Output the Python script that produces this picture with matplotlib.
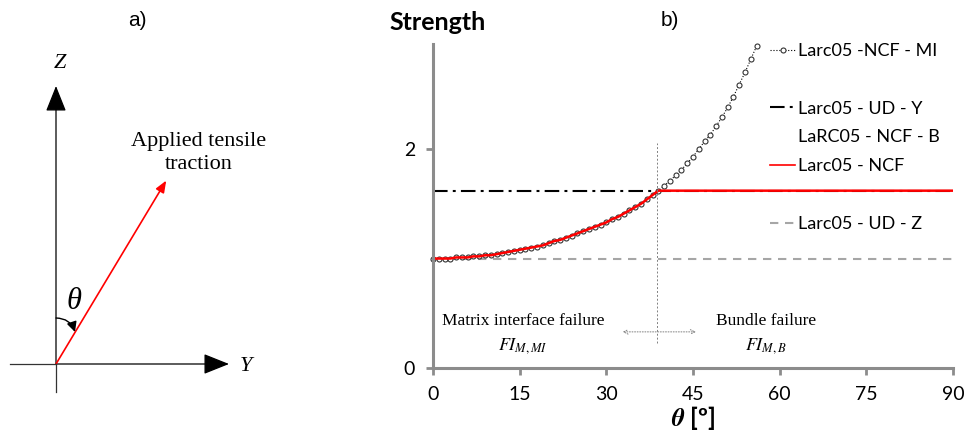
import numpy as np
import matplotlib
matplotlib.use('Agg')
import matplotlib.pyplot as plt
from matplotlib.lines import Line2D
from matplotlib.patches import FancyArrowPatch

# strength vs angle
theta_mi = list(range(0, 57))
mi = [1.00, 1.00, 1.00, 1.00, 1.01, 1.01, 1.01, 1.02, 1.02, 1.03,
      1.03, 1.04, 1.05, 1.06, 1.07, 1.08, 1.09, 1.10, 1.11, 1.12,
      1.14, 1.16, 1.17, 1.19, 1.21, 1.23, 1.25, 1.27, 1.29, 1.31,
      1.33, 1.36, 1.38, 1.41, 1.44, 1.47, 1.50, 1.54, 1.58, 1.62,
      1.665, 1.71, 1.76, 1.81, 1.87, 1.93, 2.00, 2.07, 2.13, 2.21,
      2.29, 2.38, 2.48, 2.59, 2.70, 2.82, 2.94]
theta_ncf = theta_mi[:40] + [90]
ncf = mi[:40] + [1.62]
theta_flat = [0, 90]
ud_y = [1.62, 1.62]
ud_z = [1.0, 1.0]
theta_switch = 38.8
xticks = [0, 15, 30, 45, 60, 75, 90]
yticks = [0, 2]

# sketch a) geometry (pixels)
origin = (56, 364)
load_angle = 31
load_len = 214

gray = '#8c8c8c'
fig = plt.figure(figsize=(9.66, 4.36), dpi=100)

# ---- a) sketch ----
ax0 = fig.add_axes([0, 0, 1, 1])
ax0.set_xlim(0, 966)
ax0.set_ylim(436, 0)
ax0.axis('off')
ox, oy = origin
hs = '-|>,head_length=0.8,head_width=0.32'
ax0.plot([ox, ox], [oy, oy + 28], color='#333333', lw=0.9)
ax0.plot([10, ox], [oy, oy], color='#333333', lw=0.9)
ax0.add_patch(FancyArrowPatch((ox, oy), (ox, 86), arrowstyle=hs, mutation_scale=20,
                              color='black', lw=0.9, shrinkA=0, shrinkB=0))
ax0.add_patch(FancyArrowPatch((ox, oy), (229, oy), arrowstyle=hs, mutation_scale=20,
                              color='black', lw=0.9, shrinkA=0, shrinkB=0))
a = np.radians(load_angle)
tip = (ox + load_len * np.sin(a), oy - load_len * np.cos(a))
ax0.add_patch(FancyArrowPatch((ox, oy), tip, arrowstyle='-|>,head_length=0.5,head_width=0.2',
                              mutation_scale=14, color='red', lw=1.2, shrinkA=0, shrinkB=0))
ax0.add_patch(FancyArrowPatch((ox, 318), (75, 332), arrowstyle='-|>,head_length=0.5,head_width=0.25',
                              connectionstyle='arc3,rad=-0.35', mutation_scale=12,
                              color='black', lw=1.0, shrinkA=0, shrinkB=0))
ax0.text(74, 301, 'θ', fontsize=22, family='Liberation Serif', style='italic',
         ha='center', va='center')
ax0.text(60, 63, 'Z', fontsize=16, family='Liberation Serif', style='italic',
         ha='center', va='center')
ax0.text(246, 366, 'Y', fontsize=16, family='Liberation Serif', style='italic',
         ha='center', va='center')
ax0.text(199, 153, 'Applied tensile\ntraction', fontsize=16, family='Liberation Serif',
         ha='center', va='center', linespacing=1.3)
ax0.text(137, 20, 'a)', fontsize=15, family='Liberation Sans', ha='center', va='center')
ax0.text(670, 20, 'b)', fontsize=15, family='Liberation Sans', ha='center', va='center')
ax0.text(389, 22, 'Strength', fontsize=18, family='Lato', weight='bold',
         ha='left', va='center')

# ---- b) plot ----
ax = fig.add_axes([433 / 966, 68 / 436, 520 / 966, 324 / 436])
ax.patch.set_alpha(0)
ax.plot(theta_flat, ud_z, color='#a6a6a6', lw=1.5, dashes=(4, 3.2))
ax.plot(theta_flat, ud_y, color='black', lw=1.5, dashes=(7, 2.5, 1.4, 2.5))
ax.plot(theta_mi, mi, color='black', lw=0.8, ls=':', marker='o', ms=3.6,
        mfc='white', mec='#333333', mew=0.8, clip_on=False)
ax.plot(theta_ncf, ncf, color='red', lw=1.8)
ax.plot([theta_switch, theta_switch], [0.23, 2.06], color='#808080', lw=0.7, ls=(0, (2, 2)))
ax.annotate('', xy=(32.8, 0.33), xytext=(45.5, 0.33),
            arrowprops=dict(arrowstyle='<->', color='#808080', lw=0.7, ls=':',
                            mutation_scale=8, shrinkA=0, shrinkB=0))
ax.text(15.6, 0.43, 'Matrix interface failure', fontsize=12.5, family='Liberation Serif',
        ha='center', va='center')
ax.text(15.6, 0.20, r'$FI_{M,MI}$', fontsize=13, family='Liberation Serif',
        ha='center', va='center', math_fontfamily='stix')
ax.text(57.6, 0.43, 'Bundle failure', fontsize=12.5, family='Liberation Serif',
        ha='center', va='center')
ax.text(57.6, 0.20, r'$FI_{M,B}$', fontsize=13, family='Liberation Serif',
        ha='center', va='center', math_fontfamily='stix')

ax.set_xlim(0, 90)
ax.set_ylim(0, 2.96)
ax.set_xticks(xticks)
ax.set_yticks(yticks)
ax.tick_params(colors=gray, width=2, length=5, labelcolor='black', labelsize=14, pad=8)
for lab in ax.get_xticklabels() + ax.get_yticklabels():
    lab.set_family('Lato')
for s in ['top', 'right']:
    ax.spines[s].set_visible(False)
for s in ['left', 'bottom']:
    ax.spines[s].set_color(gray)
    ax.spines[s].set_linewidth(2.2)
ax.set_xlabel(r'$\boldsymbol{\theta}$' + ' [º]', fontsize=18, weight='bold', family='Lato',
              labelpad=1, math_fontfamily='stix')

blank = Line2D([], [], color='none')
handles = [
    Line2D([], [], color='black', lw=0.8, ls=':', marker='o', ms=3.6, mfc='white',
           mec='#333333', mew=0.8),
    blank,
    Line2D([], [], color='black', lw=1.5, dashes=(7, 2.5, 1.4, 2.5)),
    blank,
    Line2D([], [], color='red', lw=1.2),
    blank,
    Line2D([], [], color='#a6a6a6', lw=1.5, dashes=(4, 3.2)),
]
labels = ['Larc05 -NCF - MI', ' ', 'Larc05 - UD - Y', 'LaRC05 - NCF - B',
          'Larc05 - NCF', ' ', 'Larc05 - UD - Z']
leg = fig.legend(handles, labels, loc='upper left', bbox_to_anchor=(770 / 966, 1 - 43 / 436),
                 frameon=False, prop={'family': 'Lato', 'size': 13}, borderpad=0,
                 borderaxespad=0, handlelength=1.4, handletextpad=0.15, labelspacing=0.71)

fig.savefig('out.png', dpi=100)
